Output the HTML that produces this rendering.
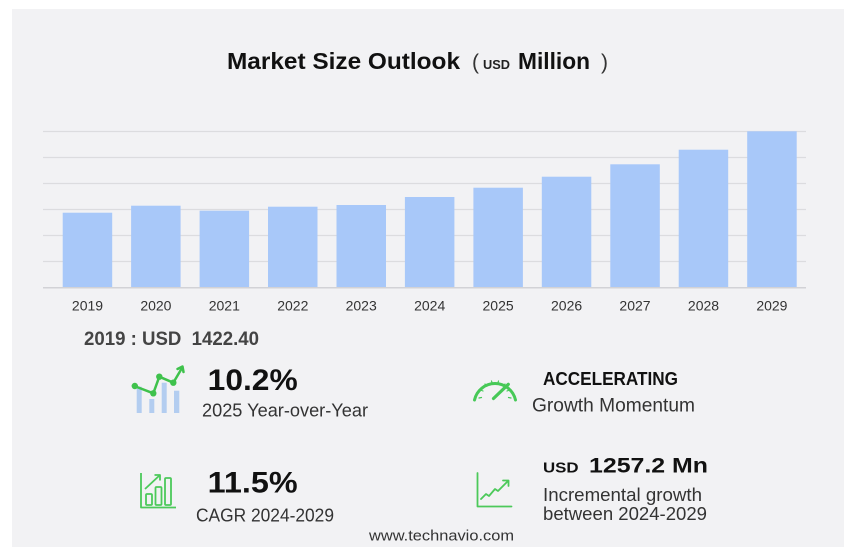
<!DOCTYPE html>
<html>
<head>
<meta charset="utf-8">
<style>
  html, body { margin:0; padding:0; background:#ffffff; }
  body { width:858px; height:556px; overflow:hidden; position:relative; }
  svg { position:absolute; left:0; top:0; }
  text { font-family: "Liberation Sans", Arial, sans-serif; }
</style>
</head>
<body>
<svg width="858" height="556" viewBox="0 0 858 556" xmlns="http://www.w3.org/2000/svg">
  <!-- panel -->
  <rect x="12" y="9" width="832" height="538" fill="#f2f2f4"/>

  <!-- title -->
  <text x="227" y="69" font-size="23" font-weight="bold" fill="#111" textLength="233" lengthAdjust="spacingAndGlyphs">Market Size Outlook</text>
  <text x="472" y="69" font-size="21" fill="#333">(</text>
  <text x="483" y="69" font-size="13" font-weight="bold" fill="#222" textLength="27" lengthAdjust="spacingAndGlyphs">USD</text>
  <text x="518" y="69" font-size="23" font-weight="bold" fill="#111" textLength="72" lengthAdjust="spacingAndGlyphs">Million</text>
  <text x="601" y="69" font-size="21" fill="#333">)</text>

  <!-- gridlines -->
  <g stroke="#dcdcdf" stroke-width="1.3">
    <line x1="43" y1="131.5" x2="806" y2="131.5"/>
    <line x1="43" y1="157.5" x2="806" y2="157.5"/>
    <line x1="43" y1="183.5" x2="806" y2="183.5"/>
    <line x1="43" y1="209.5" x2="806" y2="209.5"/>
    <line x1="43" y1="235.5" x2="806" y2="235.5"/>
    <line x1="43" y1="261.5" x2="806" y2="261.5"/>
  </g>

  <!-- bars -->
  <g fill="#a8c8f9">
    <rect x="62.7" y="212.7" width="49.5" height="74.8"/>
    <rect x="131.1" y="205.7" width="49.5" height="81.8"/>
    <rect x="199.6" y="210.7" width="49.5" height="76.8"/>
    <rect x="268.0" y="206.7" width="49.5" height="80.8"/>
    <rect x="336.5" y="205.0" width="49.5" height="82.5"/>
    <rect x="404.9" y="197.0" width="49.5" height="90.5"/>
    <rect x="473.4" y="187.7" width="49.5" height="99.8"/>
    <rect x="541.8" y="176.7" width="49.5" height="110.8"/>
    <rect x="610.3" y="164.3" width="49.5" height="123.2"/>
    <rect x="678.7" y="149.7" width="49.5" height="137.8"/>
    <rect x="747.2" y="131.3" width="49.5" height="156.2"/>
  </g>
  <line x1="43" y1="287.8" x2="806" y2="287.8" stroke="#d2d2d6" stroke-width="1.5"/>

  <!-- year labels -->
  <g font-size="14" fill="#333" text-anchor="middle">
    <text x="87.5" y="310.5">2019</text>
    <text x="155.9" y="310.5">2020</text>
    <text x="224.3" y="310.5">2021</text>
    <text x="292.8" y="310.5">2022</text>
    <text x="361.2" y="310.5">2023</text>
    <text x="429.7" y="310.5">2024</text>
    <text x="498.1" y="310.5">2025</text>
    <text x="566.6" y="310.5">2026</text>
    <text x="635.0" y="310.5">2027</text>
    <text x="703.5" y="310.5">2028</text>
    <text x="771.9" y="310.5">2029</text>
  </g>

  <!-- 2019 value -->
  <text x="84" y="345" font-size="19" font-weight="bold" fill="#444" textLength="175" lengthAdjust="spacingAndGlyphs">2019 : USD &#160;1422.40</text>

  <!-- icon 1: bars + line -->
  <g fill="#b3cdf0">
    <rect x="136.7" y="386.7" width="5" height="26.3"/>
    <rect x="149.3" y="399" width="5" height="14"/>
    <rect x="161.7" y="382.7" width="5" height="30.3"/>
    <rect x="174" y="390.7" width="5.3" height="22.3"/>
  </g>
  <g stroke="#3fc24c" stroke-width="2.5" fill="none" stroke-linecap="round" stroke-linejoin="round">
    <polyline points="134.3,386 153.3,393.3 159.3,376.7 173.3,382.7 182,368"/>
    <polyline points="177.5,369 182.5,366.5 183.5,372"/>
  </g>
  <g fill="#3fc24c">
    <circle cx="134.8" cy="386" r="3.2"/>
    <circle cx="153.3" cy="393.3" r="3.2"/>
    <circle cx="159.3" cy="376.7" r="3.2"/>
    <circle cx="173.3" cy="382.7" r="3.2"/>
  </g>

  <text x="207.7" y="390" font-size="30" font-weight="bold" fill="#111" textLength="90" lengthAdjust="spacingAndGlyphs">10.2%</text>
  <text x="202" y="416.3" font-size="18" fill="#333" textLength="166" lengthAdjust="spacingAndGlyphs">2025 Year-over-Year</text>

  <!-- icon 2: gauge -->
  <g stroke="#47c957" fill="none" stroke-linecap="round">
    <path d="M474.5,400 A21,21 0 0 1 515.5,400" stroke-width="3"/>
    <path d="M479,398 L481.5,397.5 M480.5,390 L483,391 M485,384 L487,386 M491.5,381 L492.3,383.5 M498.5,381 L497.7,383.5 M505,384 L503,386 M509.5,390 L507,391 M511,398 L508.5,397.5" stroke-width="1.2"/>
    <path d="M493.5,398.5 L508.3,384.3" stroke-width="3.2"/>
  </g>

  <text x="543" y="385" font-size="18" font-weight="bold" fill="#111" textLength="135" lengthAdjust="spacingAndGlyphs">ACCELERATING</text>
  <text x="532" y="411.5" font-size="19" fill="#333" textLength="163" lengthAdjust="spacingAndGlyphs">Growth Momentum</text>

  <!-- icon 3: CAGR box -->
  <g stroke="#4cc95a" stroke-width="1.8" fill="none" stroke-linejoin="round">
    <polyline points="141,473 141,507.5 176,507.5"/>
    <rect x="146" y="494" width="6" height="11" rx="1"/>
    <rect x="155.5" y="487" width="6" height="18" rx="1"/>
    <rect x="165" y="478" width="6" height="27" rx="1"/>
    <polyline points="145,489 160,475"/>
    <polyline points="154.5,475 160,475 160,480.5"/>
  </g>

  <text x="207.7" y="492.3" font-size="30" font-weight="bold" fill="#111" textLength="90" lengthAdjust="spacingAndGlyphs">11.5%</text>
  <text x="196" y="521.5" font-size="18" fill="#333" textLength="138" lengthAdjust="spacingAndGlyphs">CAGR 2024-2029</text>

  <!-- icon 4: incremental -->
  <g stroke="#4cc95a" stroke-width="1.8" fill="none" stroke-linejoin="round" stroke-linecap="round">
    <polyline points="477.5,473 477.5,506.5 511.5,506.5"/>
    <polyline points="481,499 486,494 489,496 495,489 498,491 508,481"/>
    <polyline points="503,480.5 508.5,480.5 508.5,486"/>
  </g>

  <text x="543" y="472.3" font-size="15" font-weight="bold" fill="#111" textLength="35.6" lengthAdjust="spacingAndGlyphs">USD</text>
  <text x="589" y="472.3" font-size="21" font-weight="bold" fill="#111" textLength="119" lengthAdjust="spacingAndGlyphs">1257.2 Mn</text>
  <text x="543" y="501" font-size="18.5" fill="#333" textLength="159" lengthAdjust="spacingAndGlyphs">Incremental growth</text>
  <text x="543" y="520" font-size="18.5" fill="#333" textLength="164" lengthAdjust="spacingAndGlyphs">between 2024-2029</text>

  <!-- footer -->
  <text x="369" y="540.7" font-size="14.5" fill="#333" textLength="145" lengthAdjust="spacingAndGlyphs">www.technavio.com</text>
</svg>
</body>
</html>
